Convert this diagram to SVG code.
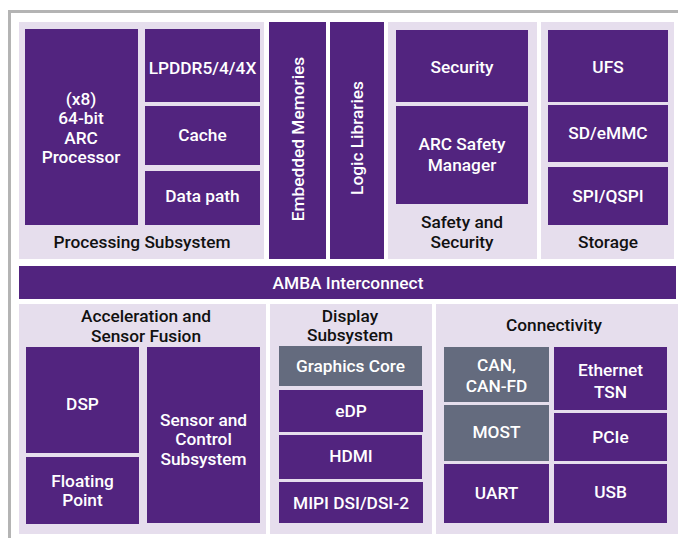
<svg xmlns="http://www.w3.org/2000/svg" width="678" height="538" viewBox="0 0 678 538">
<style>
.bg{fill:#e6deed}
.p{fill:#52247f}
.g{fill:#646b7e}
text{font-family:Roboto,"Liberation Sans",sans-serif;font-size:17.3px;font-weight:500;text-anchor:middle;dominant-baseline:central}
.w{fill:#ffffff}
.k{fill:#111111}
</style>
<rect x="0" y="0" width="678" height="538" fill="#ffffff"/>
<path d="M9.5 538 V11.5 H678" fill="none" stroke="#b4b4b4" stroke-width="3"/>

<g id="processing-subsystem">
<rect class="bg" x="19" y="22" width="245" height="237"/>
<text class="k" x="142" y="242">Processing Subsystem</text>
</g>
<g id="arc-processor">
<rect class="p" x="25" y="29" width="113" height="196"/>
<text class="w" x="81" y="99">(x8)</text>
<text class="w" x="81" y="118">64-bit</text>
<text class="w" x="81" y="138">ARC</text>
<text class="w" x="81" y="157">Processor</text>
</g>
<g id="lpddr">
<rect class="p" x="145" y="29" width="115" height="73"/>
<text class="w" x="202.5" y="68">LPDDR5/4/4X</text>
</g>
<g id="cache">
<rect class="p" x="145" y="106" width="115" height="59"/>
<text class="w" x="202.5" y="135">Cache</text>
</g>
<g id="data-path">
<rect class="p" x="145" y="171" width="115" height="54"/>
<text class="w" x="202.5" y="196">Data path</text>
</g>
<g id="embedded-memories">
<rect class="p" x="269" y="22" width="57" height="237"/>
<text class="w" transform="translate(297.5 139) rotate(-90)">Embedded Memories</text>
</g>
<g id="logic-libraries">
<rect class="p" x="330" y="22" width="54" height="237"/>
<text class="w" transform="translate(357 138) rotate(-90)">Logic Libraries</text>
</g>
<g id="safety-and-security">
<rect class="bg" x="388" y="22" width="149" height="237"/>
<text class="k" x="462" y="222">Safety and</text>
<text class="k" x="462" y="242">Security</text>
</g>
<g id="security">
<rect class="p" x="396" y="30" width="132" height="72"/>
<text class="w" x="462" y="67">Security</text>
</g>
<g id="arc-safety-manager">
<rect class="p" x="396" y="106" width="132" height="98"/>
<text class="w" x="462" y="144">ARC Safety</text>
<text class="w" x="462" y="165">Manager</text>
</g>
<g id="storage">
<rect class="bg" x="541" y="22" width="133" height="237"/>
<text class="k" x="608" y="242">Storage</text>
</g>
<g id="ufs">
<rect class="p" x="548" y="30" width="120" height="72"/>
<text class="w" x="608" y="67">UFS</text>
</g>
<g id="sd-emmc">
<rect class="p" x="548" y="105" width="120" height="57"/>
<text class="w" x="608" y="133">SD/eMMC</text>
</g>
<g id="spi-qspi">
<rect class="p" x="548" y="167" width="120" height="58"/>
<text class="w" x="608" y="196">SPI/QSPI</text>
</g>
<g id="amba-interconnect">
<rect class="p" x="19" y="266" width="657" height="33"/>
<text class="w" x="348" y="283">AMBA Interconnect</text>
</g>
<g id="acceleration-sensor-fusion">
<rect class="bg" x="19" y="304" width="247" height="230"/>
<text class="k" x="146" y="316">Acceleration and</text>
<text class="k" x="146" y="336">Sensor Fusion</text>
</g>
<g id="dsp">
<rect class="p" x="26" y="347" width="113" height="106"/>
<text class="w" x="82.5" y="404">DSP</text>
</g>
<g id="floating-point">
<rect class="p" x="26" y="457" width="113" height="67"/>
<text class="w" x="82.5" y="481">Floating</text>
<text class="w" x="82.5" y="500">Point</text>
</g>
<g id="sensor-control">
<rect class="p" x="147" y="347" width="113" height="176"/>
<text class="w" x="203.5" y="420">Sensor and</text>
<text class="w" x="203.5" y="439">Control</text>
<text class="w" x="203.5" y="459">Subsystem</text>
</g>
<g id="display-subsystem">
<rect class="bg" x="270" y="304" width="162" height="230"/>
<text class="k" x="350" y="316">Display</text>
<text class="k" x="350" y="335">Subsystem</text>
</g>
<g id="graphics-core">
<rect class="g" x="279" y="346" width="143" height="40"/>
<text class="w" x="350.5" y="366">Graphics Core</text>
</g>
<g id="edp">
<rect class="p" x="279" y="390" width="144" height="42"/>
<text class="w" x="351" y="411">eDP</text>
</g>
<g id="hdmi">
<rect class="p" x="279" y="435" width="143" height="44"/>
<text class="w" x="351" y="456">HDMI</text>
</g>
<g id="mipi">
<rect class="p" x="279" y="482" width="144" height="41"/>
<text class="w" x="351" y="503">MIPI DSI/DSI-2</text>
</g>
<g id="connectivity">
<rect class="bg" x="436" y="304" width="242" height="230"/>
<text class="k" x="554" y="325">Connectivity</text>
</g>
<g id="can">
<rect class="g" x="444" y="347" width="105" height="55"/>
<text class="w" x="496.5" y="365">CAN,</text>
<text class="w" x="496.5" y="386">CAN-FD</text>
</g>
<g id="most">
<rect class="g" x="444" y="405" width="105" height="56"/>
<text class="w" x="496.5" y="432">MOST</text>
</g>
<g id="uart">
<rect class="p" x="444" y="464" width="105" height="59"/>
<text class="w" x="496.5" y="493">UART</text>
</g>
<g id="ethernet-tsn">
<rect class="p" x="554" y="347" width="113" height="63"/>
<text class="w" x="610.5" y="370">Ethernet</text>
<text class="w" x="610.5" y="392">TSN</text>
</g>
<g id="pcie">
<rect class="p" x="554" y="413" width="113" height="48"/>
<text class="w" x="610.5" y="437">PCIe</text>
</g>
<g id="usb">
<rect class="p" x="554" y="464" width="113" height="59"/>
<text class="w" x="610.5" y="492">USB</text>
</g>
<g id="connectors"></g>
</svg>
